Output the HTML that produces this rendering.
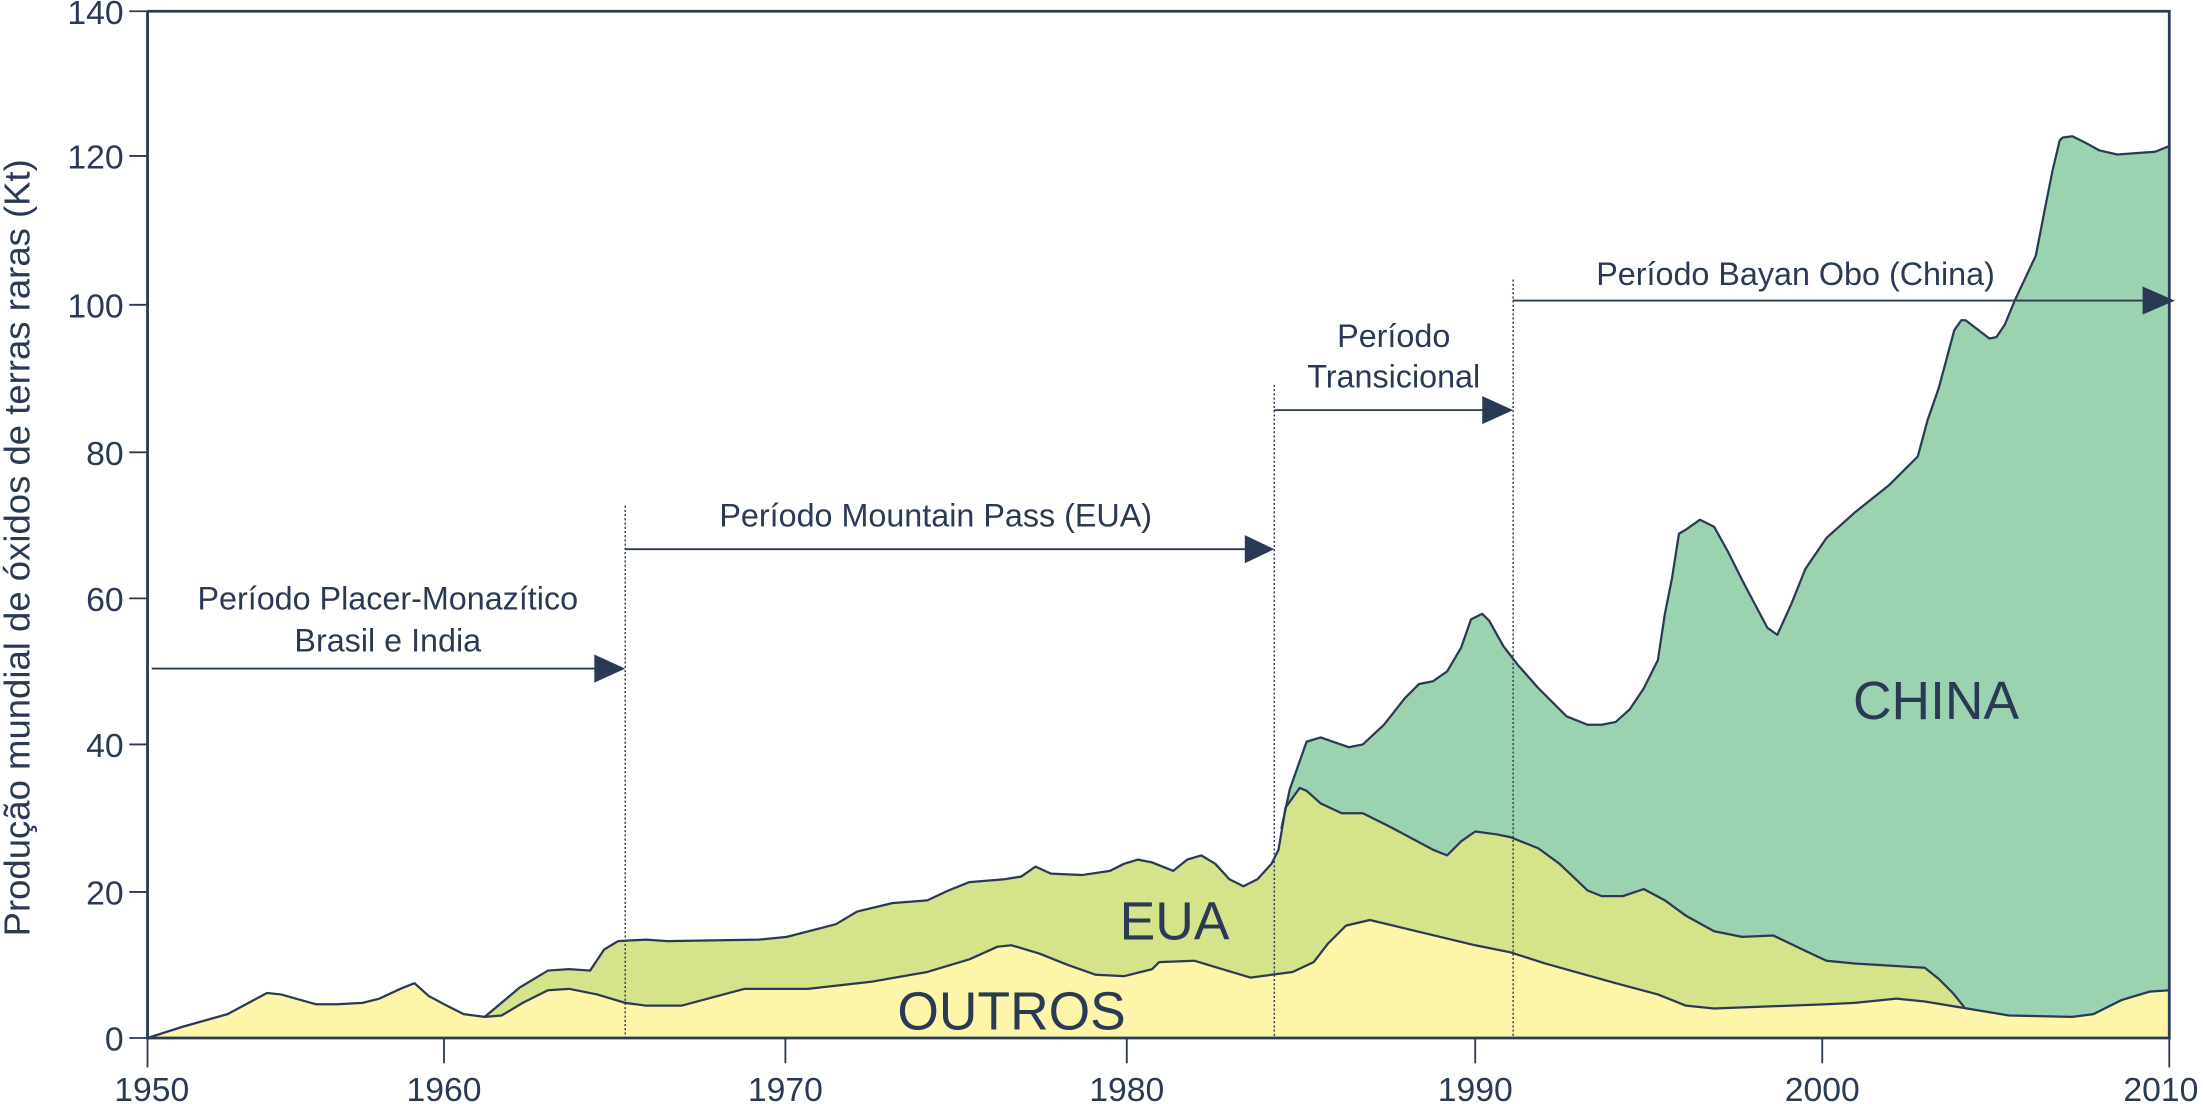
<!DOCTYPE html>
<html><head><meta charset="utf-8"><style>html,body{margin:0;padding:0;background:#fff}svg{display:block}</style></head><body>
<svg width="2203" height="1104" viewBox="0 0 1568 786" preserveAspectRatio="none" xmlns="http://www.w3.org/2000/svg" font-family="Liberation Sans, sans-serif">
<defs>
<polyline id="china" points="912,590 918,562 930,528 940,525 960,532 970,530 985,516 1000,497 1010,487 1020,485 1030,478 1040,461 1047,441 1055,437 1060,442 1070,460 1080,473 1095,490 1115,510 1130,516 1140,516 1150,514 1160,505 1170,490 1180,470 1185,437 1190,412 1195,380 1200,377 1210,370 1220,375 1230,393 1240,413 1250,432 1258,447 1265,452 1275,430 1285,405 1300,383 1320,365 1345,345 1365,325 1372,299 1380,276 1391,235 1396,228 1399,228 1416,241 1421,240 1427,231 1434,214 1449,182 1456,146 1461,121 1466,100 1468,98 1475,97 1485,102 1494,107 1507,110 1534,108 1544,104"/>
<polyline id="eua" points="345,724 370,703 390,691 405,690 420,691 430,676 440,670 460,669 475,670 540,669 560,667 595,658 610,649 635,643 660,641 675,634 690,628 715,626 727,624 737,617 748,622 770,623 790,620 800,615 810,612 820,614 835,620 845,612 855,609 865,615 875,626 885,631 895,626 905,615 910,605 915,575 925,561 930,563 940,572 955,579 970,579 990,589 1020,605 1030,609 1040,599 1050,592 1065,594 1075,596 1095,604 1110,615 1130,634 1140,638 1155,638 1170,633 1185,641 1200,652 1220,663 1240,667 1262,666 1285,677 1300,684 1320,686 1370,689 1380,697 1390,707 1398,717"/>
<polyline id="out" points="105,739 130,731 162,722 190,707 200,708 225,715 240,715 258,714 270,711 285,704 295,700 305,709 318,716 330,722 345,724 357,723 372,714 390,705 405,704 425,708 445,714 460,716 485,716 530,704 575,704 620,699 660,692 690,683 710,674 720,673 740,679 760,687 780,694 800,695 820,690 825,685 850,684 870,690 890,696 905,694 920,692 935,685 945,672 958,659 975,655 1000,661 1050,673 1075,678 1100,686 1150,700 1180,708 1200,716 1220,718 1300,715 1320,714 1350,711 1370,713 1400,718 1430,723 1475,724 1490,722 1510,712 1530,706 1544,705"/>
</defs>
<polygon fill="#9bd3b0" points="912,590 918,562 930,528 940,525 960,532 970,530 985,516 1000,497 1010,487 1020,485 1030,478 1040,461 1047,441 1055,437 1060,442 1070,460 1080,473 1095,490 1115,510 1130,516 1140,516 1150,514 1160,505 1170,490 1180,470 1185,437 1190,412 1195,380 1200,377 1210,370 1220,375 1230,393 1240,413 1250,432 1258,447 1265,452 1275,430 1285,405 1300,383 1320,365 1345,345 1365,325 1372,299 1380,276 1391,235 1396,228 1399,228 1416,241 1421,240 1427,231 1434,214 1449,182 1456,146 1461,121 1466,100 1468,98 1475,97 1485,102 1494,107 1507,110 1534,108 1544,104 1544,739 912,739"/>
<polygon fill="#d5e48a" points="345,724 370,703 390,691 405,690 420,691 430,676 440,670 460,669 475,670 540,669 560,667 595,658 610,649 635,643 660,641 675,634 690,628 715,626 727,624 737,617 748,622 770,623 790,620 800,615 810,612 820,614 835,620 845,612 855,609 865,615 875,626 885,631 895,626 905,615 910,605 915,575 925,561 930,563 940,572 955,579 970,579 990,589 1020,605 1030,609 1040,599 1050,592 1065,594 1075,596 1095,604 1110,615 1130,634 1140,638 1155,638 1170,633 1185,641 1200,652 1220,663 1240,667 1262,666 1285,677 1300,684 1320,686 1370,689 1380,697 1390,707 1398,717 1398,739 345,739"/>
<polygon fill="#fdf6a9" points="105,739 130,731 162,722 190,707 200,708 225,715 240,715 258,714 270,711 285,704 295,700 305,709 318,716 330,722 345,724 357,723 372,714 390,705 405,704 425,708 445,714 460,716 485,716 530,704 575,704 620,699 660,692 690,683 710,674 720,673 740,679 760,687 780,694 800,695 820,690 825,685 850,684 870,690 890,696 905,694 920,692 935,685 945,672 958,659 975,655 1000,661 1050,673 1075,678 1100,686 1150,700 1180,708 1200,716 1220,718 1300,715 1320,714 1350,711 1370,713 1400,718 1430,723 1475,724 1490,722 1510,712 1530,706 1544,705 1544,739"/>
<g fill="none" stroke="#2a3a55" stroke-width="1.6" stroke-linejoin="round">
<use href="#china"/><use href="#eua"/><use href="#out"/>
</g>
<g stroke="#2a3a55" stroke-width="1" stroke-dasharray="1.5,1.5">
<line x1="445" y1="360" x2="445" y2="739"/><line x1="907" y1="274" x2="907" y2="739"/><line x1="1077" y1="199" x2="1077" y2="739"/>
</g>
<g stroke="#2a3a55" stroke-width="1.3">
<line x1="108" y1="476" x2="425" y2="476"/><line x1="445" y1="391" x2="888" y2="391"/><line x1="907" y1="292" x2="1058" y2="292"/><line x1="1077" y1="214" x2="1528" y2="214"/>
</g>
<g fill="#2a3a55">
<polygon points="423,466 445,476 423,486"/><polygon points="886,381 907,391 886,401"/><polygon points="1055,282 1077,292 1055,302"/><polygon points="1525,204 1548,214 1525,224"/>
</g>
<g stroke="#2a3a55" stroke-width="2" fill="none">
<polyline points="105,8 1544,8 1544,739 105,739 105,8"/>
</g>
<g stroke="#2a3a55" stroke-width="1.3">
<line x1="92" y1="8" x2="105" y2="8"/><line x1="92" y1="111" x2="105" y2="111"/><line x1="92" y1="217" x2="105" y2="217"/><line x1="92" y1="322" x2="105" y2="322"/><line x1="92" y1="426" x2="105" y2="426"/><line x1="92" y1="530" x2="105" y2="530"/><line x1="92" y1="635" x2="105" y2="635"/><line x1="92" y1="739" x2="105" y2="739"/>
<line x1="105" y1="739" x2="105" y2="760"/><line x1="316" y1="739" x2="316" y2="757"/><line x1="559" y1="739" x2="559" y2="757"/><line x1="802" y1="739" x2="802" y2="757"/><line x1="1050" y1="739" x2="1050" y2="757"/><line x1="1297" y1="739" x2="1297" y2="757"/><line x1="1544" y1="739" x2="1544" y2="760"/>
</g>
<g fill="#2a3a55" font-size="24" text-anchor="end">
<text x="88" y="17">140</text><text x="88" y="120">120</text><text x="88" y="226">100</text><text x="88" y="331">80</text><text x="88" y="435">60</text><text x="88" y="539">40</text><text x="88" y="644">20</text><text x="88" y="748">0</text>
</g>
<g fill="#2a3a55" font-size="24" text-anchor="middle">
<text x="108" y="784">1950</text><text x="316" y="784">1960</text><text x="559" y="784">1970</text><text x="802" y="784">1980</text><text x="1050" y="784">1990</text><text x="1297" y="784">2000</text><text x="1538" y="784">2010</text>
</g>
<text transform="translate(21,390) rotate(-90)" fill="#2a3a55" font-size="26" text-anchor="middle">Produção mundial de óxidos de terras raras (Kt)</text>
<g fill="#2a3a55" font-size="23" text-anchor="middle">
<text x="276" y="434">Período Placer-Monazítico</text><text x="276" y="464">Brasil e India</text>
<text x="666" y="375">Período Mountain Pass (EUA)</text>
<text x="992" y="247">Período</text><text x="992" y="276">Transicional</text>
<text x="1278" y="203">Período Bayan Obo (China)</text>
</g>
<g fill="#2a3a55" font-size="38" text-anchor="middle">
<text x="1378" y="512">CHINA</text><text x="836" y="669">EUA</text><text x="720" y="733">OUTROS</text>
</g>
</svg>
</body></html>
